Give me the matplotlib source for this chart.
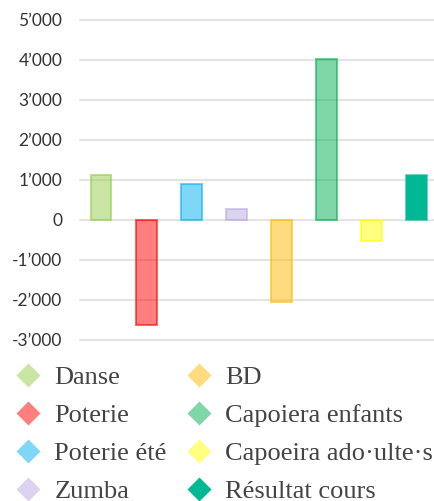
import matplotlib
matplotlib.use("Agg")
import matplotlib.pyplot as plt
from matplotlib.colors import to_rgba
from matplotlib.lines import Line2D
from matplotlib.ticker import FuncFormatter

CATEGORIES = ["Danse", "Poterie", "Poterie été", "Zumba", "BD",
              "Capoiera enfants", "Capoeira ado·ulte·s", "Résultat cours"]
VALUES = [1130, -2630, 890, 270, -2040, 4030, -530, 1130]
COLORS = ["#93cd49", "#ff0000", "#00b0f0", "#b9a9e1", "#ffb900",
          "#00b050", "#ffff00", "#00b894"]
FILL_ALPHA = [0.5, 0.5, 0.5, 0.5, 0.5, 0.5, 0.5, 1.0]
YTICKS = [-3000, -2000, -1000, 0, 1000, 2000, 3000, 4000, 5000]


def fmt(v, _):
    s = f"{abs(int(v)):,}".replace(",", "\u2019")
    return ("-" if v < 0 else "") + s


fig = plt.figure(figsize=(4.34, 5.01), dpi=100)
ax = fig.add_axes([79 / 434, 160 / 501, 355 / 434, 322 / 501])

x = range(len(CATEGORIES))
faces = [to_rgba(c, a) for c, a in zip(COLORS, FILL_ALPHA)]
edges = [to_rgba(c, 0.6) for c in COLORS]
ax.bar(x, VALUES, width=0.46, color=faces, edgecolor=edges, linewidth=1.4,
       zorder=3)

ax.set_xlim(-0.49, 7.38)
ax.set_ylim(-3025, 5025)
ax.set_yticks(YTICKS)
ax.yaxis.set_major_formatter(FuncFormatter(fmt))
ax.set_xticks([])
ax.tick_params(axis="y", length=0, pad=12, labelsize=12.5, labelcolor="#333333")
for lab in ax.get_yticklabels():
    lab.set_family("Lato")
ax.grid(axis="y", color="#dddddd", linewidth=1.1, zorder=0)
for sp in ax.spines.values():
    sp.set_visible(False)

handles = [Line2D([], [], marker="D", linestyle="none", markersize=12,
                  markerfacecolor=f, markeredgecolor="none")
           for f in [to_rgba(c, 0.5) if a < 1 else c
                     for c, a in zip(COLORS, FILL_ALPHA)]]
fig.legend(handles, CATEGORIES, ncol=2, loc="upper left",
           bbox_to_anchor=(7 / 434, 122 / 501 + 0.02 + 11 / 501),
           frameon=False,
           prop={"family": "Liberation Serif", "size": 19},
           handlelength=1.0, handletextpad=0.5, labelspacing=0.55,
           columnspacing=0.7, borderaxespad=0, borderpad=0.3,
           labelcolor="#444444")

fig.savefig("out.png", dpi=100)
